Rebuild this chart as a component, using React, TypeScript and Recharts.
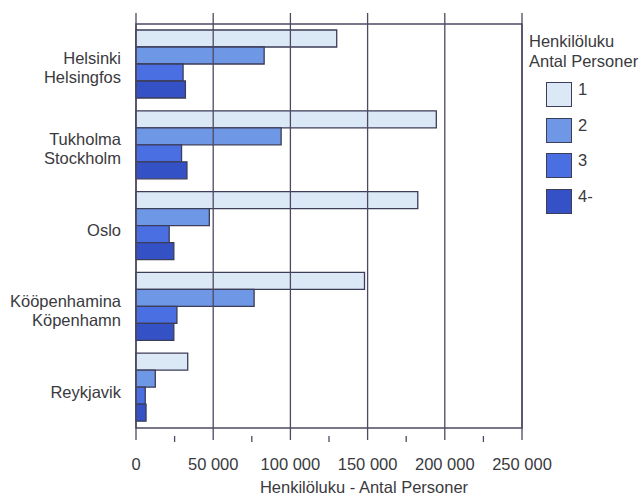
import { BarChart, Bar, XAxis, YAxis, ReferenceLine, ReferenceArea, Legend } from "recharts"

const cities = ["Helsinki\nHelsingfos", "Tukholma\nStockholm", "Oslo", "Kööpenhamina\nKöpenhamn", "Reykjavik"]
const persons1 = [130000, 194500, 182500, 148000, 33500]
const persons2 = [83000, 94000, 47500, 76500, 12500]
const persons3 = [30500, 29500, 21500, 26500, 6000]
const persons4 = [32000, 33000, 24500, 24500, 6500]
const xTicks = [0, 25000, 50000, 75000, 100000, 125000, 150000, 175000, 200000, 225000, 250000]
const majorTicks = [0, 50000, 100000, 150000, 200000, 250000]
const legendTitle = ["Henkilöluku", "Antal Personer"]
const axisTitle = "Henkilöluku - Antal Personer"

const series = [
  { key: "p1", name: "1", fill: "#dbe9f6" },
  { key: "p2", name: "2", fill: "#6e97e6" },
  { key: "p3", name: "3", fill: "#4a6fe3" },
  { key: "p4", name: "4-", fill: "#3451c6" },
]

const data = cities.map((city, i) => ({
  city,
  p1: persons1[i],
  p2: persons2[i],
  p3: persons3[i],
  p4: persons4[i],
}))

const font = "'Liberation Sans', Arial, sans-serif"
const textColor = "#3a3a3e"
const lineColor = "#4f4862"

const fmt = (v: number) => (v === 0 ? "0" : `${Math.floor(v / 1000)} ${String(v % 1000).padStart(3, "0")}`)

function CityTick({ x, y, payload }: any) {
  const lines = String(payload.value).split("\n")
  const first = lines.length === 1 ? 10 : 0
  return (
    <text x={x} y={y} textAnchor="end" fontSize={16.5} fill={textColor} fontFamily={font}>
      {lines.map((l, i) => (
        <tspan key={i} x={x - 7} y={y + first + i * 19}>
          {l}
        </tspan>
      ))}
    </text>
  )
}

function ValueTick({ x, y, payload }: any) {
  const v = payload.value as number
  if (v % 50000 !== 0) {
    return <line x1={x} x2={x} y1={y} y2={y - 6} stroke={lineColor} strokeWidth={1.3} />
  }
  return (
    <text x={x} y={y + 28} textAnchor="middle" fontSize={16.5} fill={textColor} fontFamily={font}>
      {fmt(v)}
    </text>
  )
}

function LegendBox() {
  return (
    <div style={{ position: "relative", width: 113, height: 200, fontFamily: font, fontSize: 16.5, color: textColor }}>
      {legendTitle.map((t, i) => (
        <div key={t} style={{ position: "absolute", left: 0, top: 2 + i * 20, whiteSpace: "nowrap", lineHeight: "19px" }}>
          {t}
        </div>
      ))}
      {series.map((s, i) => (
        <div key={s.key}>
          <div
            style={{
              position: "absolute",
              left: 17,
              top: 52 + i * 35.5,
              width: 24,
              height: 23,
              background: s.fill,
              border: "1.3px solid #3c3d58",
            }}
          />
          <div style={{ position: "absolute", left: 49, top: 50 + i * 35.5, lineHeight: "19px" }}>{s.name}</div>
        </div>
      ))}
    </div>
  )
}

export default function App() {
  return (
    <div style={{ position: "absolute", left: 0, top: 0, width: 642, height: 496, background: "#fff" }}>
      <BarChart
        width={642}
        height={496}
        data={data}
        layout="vertical"
        margin={{ top: 13, right: 120, bottom: 0, left: 0 }}
        barCategoryGap={6}
        barGap={0}
      >
        {majorTicks.map((t) => (
          <ReferenceLine key={t} x={t} stroke={lineColor} strokeWidth={1.3} />
        ))}
        <XAxis
          type="number"
          domain={[0, 250000]}
          ticks={xTicks}
          interval={0}
          tickSize={0}
          tickLine={false}
          axisLine={false}
          height={56}
          tick={<ValueTick />}
          label={{
            content: ({ viewBox }: any) => (
              <text
                x={viewBox.x + viewBox.width / 2 + 35}
                y={493}
                textAnchor="middle"
                fontSize={16.5}
                fill={textColor}
                fontFamily={font}
              >
                {axisTitle}
              </text>
            ),
          }}
        />
        <YAxis
          type="category"
          dataKey="city"
          width={136}
          interval={0}
          tickLine={false}
          axisLine={false}
          padding={{ top: 11, bottom: 12 }}
          tick={<CityTick />}
        />
        <Legend
          layout="horizontal"
          verticalAlign="middle"
          align="center"
          wrapperStyle={{ left: 529, top: 30, width: 113 }}
          content={() => <LegendBox />}
        />
        {series.map((s) => (
          <Bar
            key={s.key}
            dataKey={s.key}
            name={s.name}
            fill={s.fill}
            stroke="#3c3d58"
            strokeWidth={1.3}
            isAnimationActive={false}
          />
        ))}
        <ReferenceArea x1={0} x2={250000} fill="none" stroke={lineColor} strokeWidth={1.5} ifOverflow="visible" />
      </BarChart>
    </div>
  )
}
